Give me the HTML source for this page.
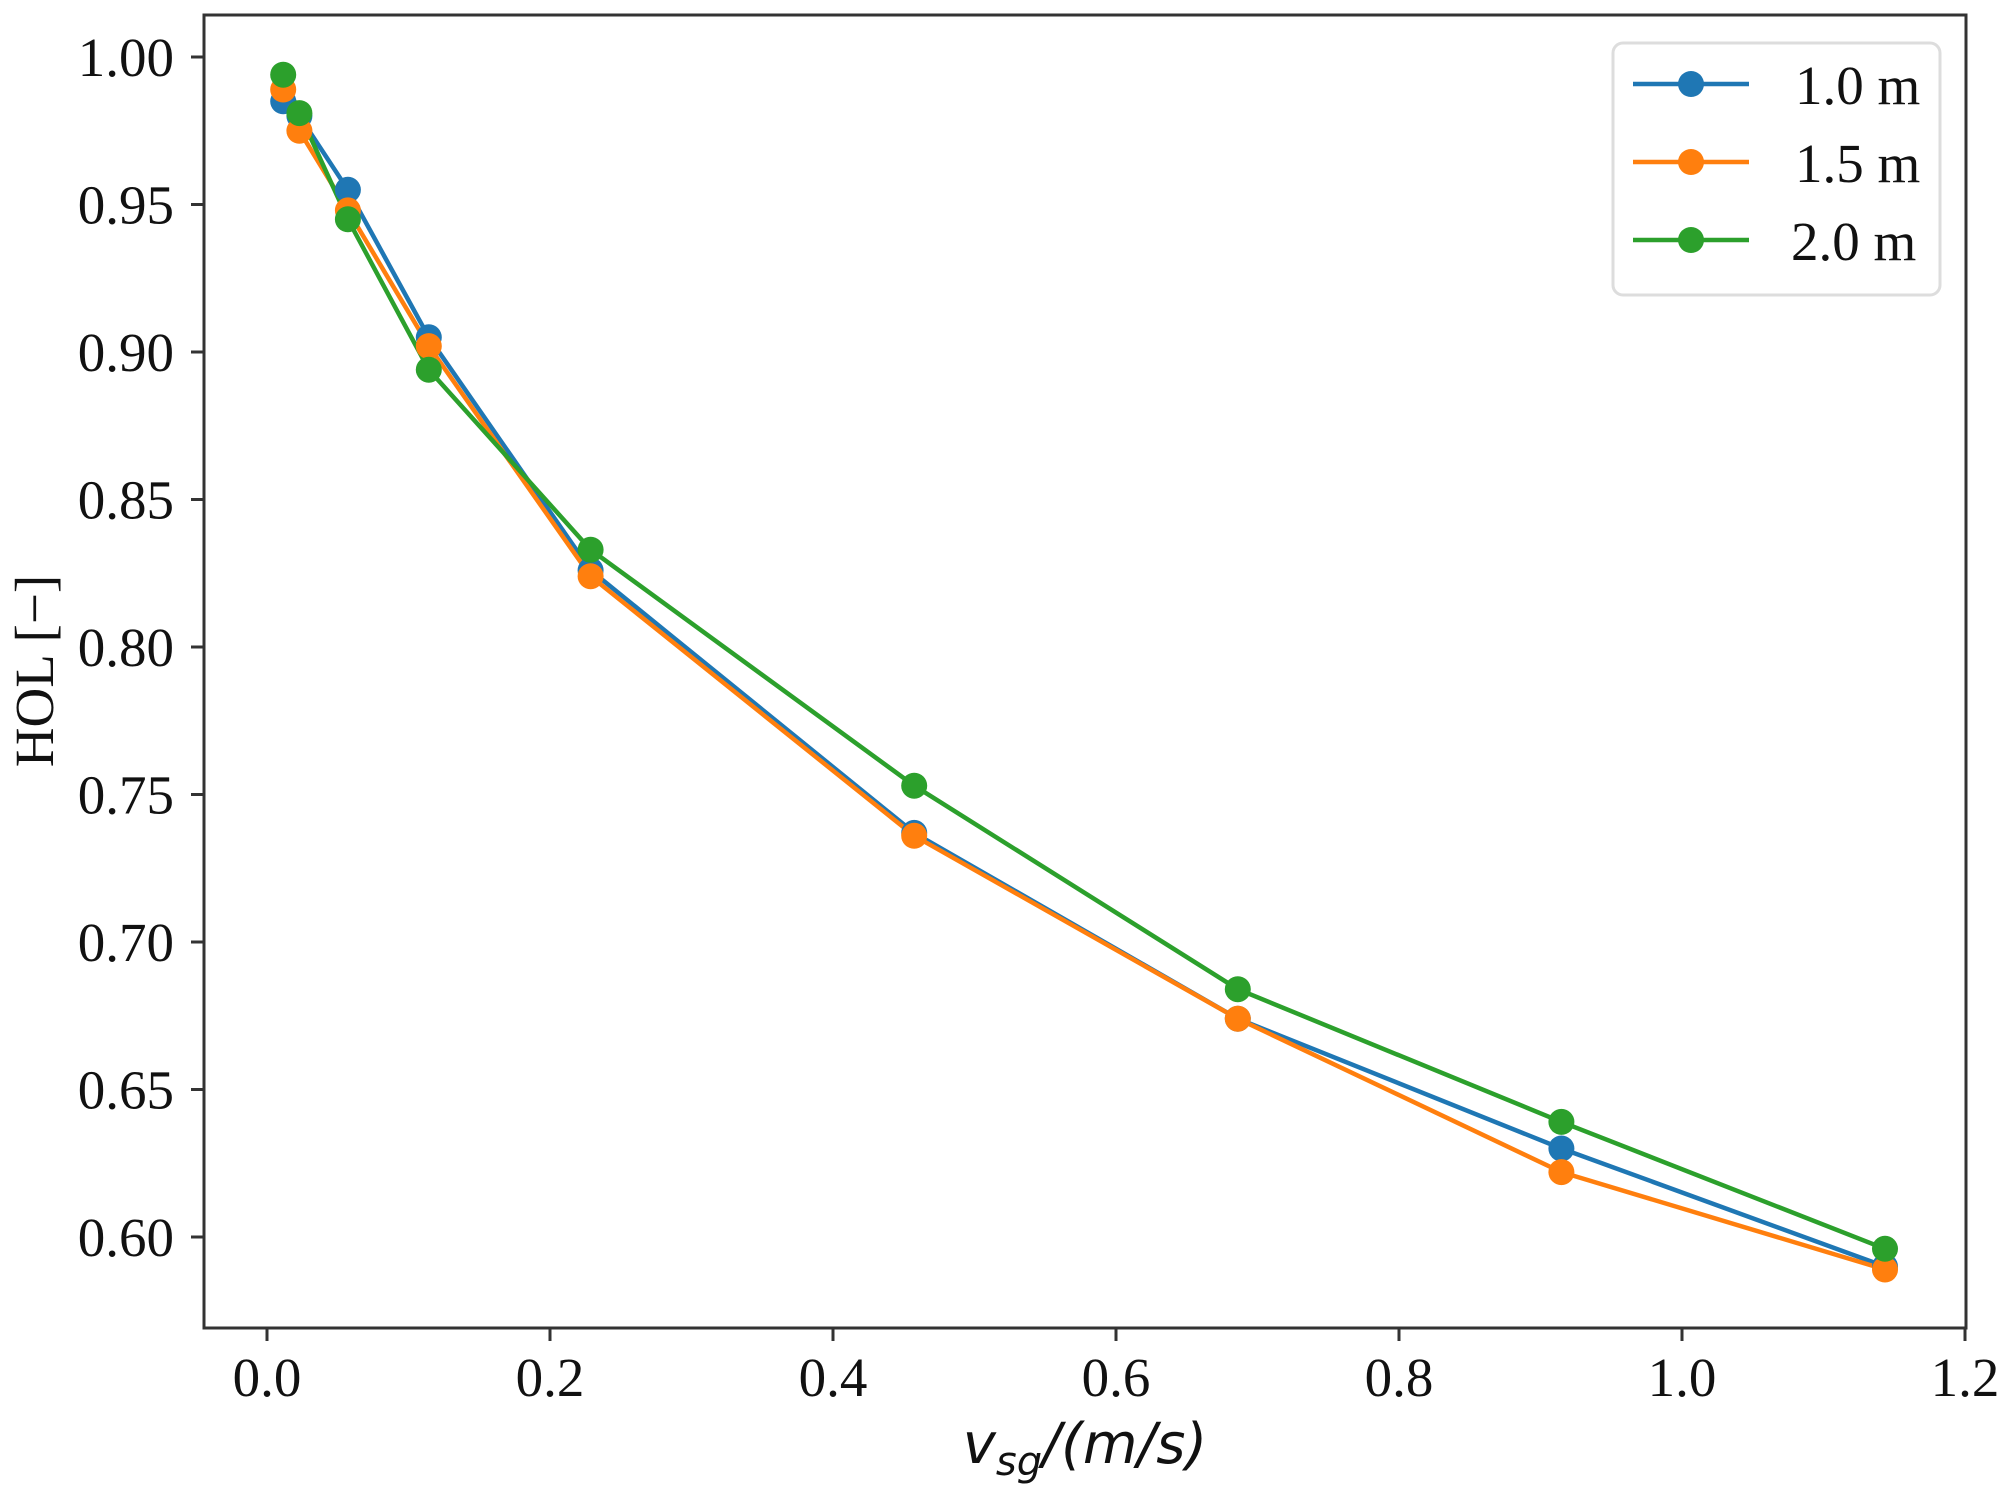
<!DOCTYPE html>
<html><head><meta charset="utf-8"><style>html,body{margin:0;padding:0;background:#fff}svg{display:block}</style></head><body>
<svg width="2004" height="1496" viewBox="0 0 2004 1496" xmlns="http://www.w3.org/2000/svg">
<rect width="2004" height="1496" fill="#fff"/>
<g stroke-width="4.5" fill="none" stroke-linejoin="round">
<polyline stroke="#1f77b4" points="283.2,101.3 299.4,116 347.9,189.8 428.8,337.3 590.6,570.3 914.2,832.9 1237.8,1018.7 1561.4,1148.5 1885,1266.5"/>
<polyline stroke="#ff7f0e" points="283.2,89.5 299.4,130.8 347.9,210.4 428.8,346.1 590.6,576.2 914.2,835.8 1237.8,1018.7 1561.4,1172.1 1885,1269.5"/>
<polyline stroke="#2ca02c" points="283.2,74.7 299.4,113.1 347.9,219.3 428.8,369.7 590.6,549.7 914.2,785.7 1237.8,989.2 1561.4,1121.9 1885,1248.8"/>
</g>
<g fill="#1f77b4"><circle cx="283.2" cy="101.3" r="13"/><circle cx="299.4" cy="116" r="13"/><circle cx="347.9" cy="189.8" r="13"/><circle cx="428.8" cy="337.3" r="13"/><circle cx="590.6" cy="570.3" r="13"/><circle cx="914.2" cy="832.9" r="13"/><circle cx="1237.8" cy="1018.7" r="13"/><circle cx="1561.4" cy="1148.5" r="13"/><circle cx="1885" cy="1266.5" r="13"/></g>
<g fill="#ff7f0e"><circle cx="283.2" cy="89.5" r="13"/><circle cx="299.4" cy="130.8" r="13"/><circle cx="347.9" cy="210.4" r="13"/><circle cx="428.8" cy="346.1" r="13"/><circle cx="590.6" cy="576.2" r="13"/><circle cx="914.2" cy="835.8" r="13"/><circle cx="1237.8" cy="1018.7" r="13"/><circle cx="1561.4" cy="1172.1" r="13"/><circle cx="1885" cy="1269.5" r="13"/></g>
<g fill="#2ca02c"><circle cx="283.2" cy="74.7" r="13"/><circle cx="299.4" cy="113.1" r="13"/><circle cx="347.9" cy="219.3" r="13"/><circle cx="428.8" cy="369.7" r="13"/><circle cx="590.6" cy="549.7" r="13"/><circle cx="914.2" cy="785.7" r="13"/><circle cx="1237.8" cy="989.2" r="13"/><circle cx="1561.4" cy="1121.9" r="13"/><circle cx="1885" cy="1248.8" r="13"/></g>
<rect x="204" y="15" width="1762" height="1313" fill="none" stroke="#333" stroke-width="3"/>
<g stroke="#333" stroke-width="3">
<line x1="191" y1="57" x2="204" y2="57"/><line x1="191" y1="204.5" x2="204" y2="204.5"/><line x1="191" y1="352" x2="204" y2="352"/><line x1="191" y1="499.5" x2="204" y2="499.5"/><line x1="191" y1="647" x2="204" y2="647"/><line x1="191" y1="794.5" x2="204" y2="794.5"/><line x1="191" y1="942" x2="204" y2="942"/><line x1="191" y1="1089.5" x2="204" y2="1089.5"/><line x1="191" y1="1237" x2="204" y2="1237"/>
<line x1="267" y1="1328" x2="267" y2="1341"/><line x1="550" y1="1328" x2="550" y2="1341"/><line x1="833" y1="1328" x2="833" y2="1341"/><line x1="1116" y1="1328" x2="1116" y2="1341"/><line x1="1399" y1="1328" x2="1399" y2="1341"/><line x1="1682" y1="1328" x2="1682" y2="1341"/><line x1="1965" y1="1328" x2="1965" y2="1341"/>
</g>
<g font-family="Liberation Serif, serif" font-size="55" fill="#111" text-anchor="end">
<text x="174" y="76">1.00</text><text x="174" y="223.5">0.95</text><text x="174" y="371">0.90</text><text x="174" y="518.5">0.85</text><text x="174" y="666">0.80</text><text x="174" y="813.5">0.75</text><text x="174" y="961">0.70</text><text x="174" y="1108.5">0.65</text><text x="174" y="1256">0.60</text>
</g>
<g font-family="Liberation Serif, serif" font-size="55" fill="#111" text-anchor="middle">
<text x="267" y="1396">0.0</text><text x="550" y="1396">0.2</text><text x="833" y="1396">0.4</text><text x="1116" y="1396">0.6</text><text x="1399" y="1396">0.8</text><text x="1682" y="1396">1.0</text><text x="1965" y="1396">1.2</text>
</g>
<text transform="translate(53,671) rotate(-90)" font-family="Liberation Serif, serif" font-size="55" fill="#111" text-anchor="middle">HOL [−]</text>
<text x="1085" y="1463" font-family="DejaVu Sans, sans-serif" font-style="italic" font-size="56" fill="#111" text-anchor="middle">v<tspan font-size="40" dy="12">sg</tspan><tspan dy="-12">/(m/s)</tspan></text>
<rect x="1613" y="43" width="327" height="252" rx="10" fill="#fff" stroke="#ddd" stroke-width="3"/>
<line x1="1633" y1="84" x2="1749" y2="84" stroke="#1f77b4" stroke-width="4.5"/><circle cx="1691" cy="84" r="13" fill="#1f77b4"/>
<line x1="1633" y1="162" x2="1749" y2="162" stroke="#ff7f0e" stroke-width="4.5"/><circle cx="1691" cy="162" r="13" fill="#ff7f0e"/>
<line x1="1633" y1="240" x2="1749" y2="240" stroke="#2ca02c" stroke-width="4.5"/><circle cx="1691" cy="240" r="13" fill="#2ca02c"/>
<g font-family="Liberation Serif, serif" font-size="55" fill="#111">
<text x="1795" y="104">1.0 m</text><text x="1795" y="182">1.5 m</text><text x="1791" y="260">2.0 m</text>
</g>
</svg>
</body></html>
